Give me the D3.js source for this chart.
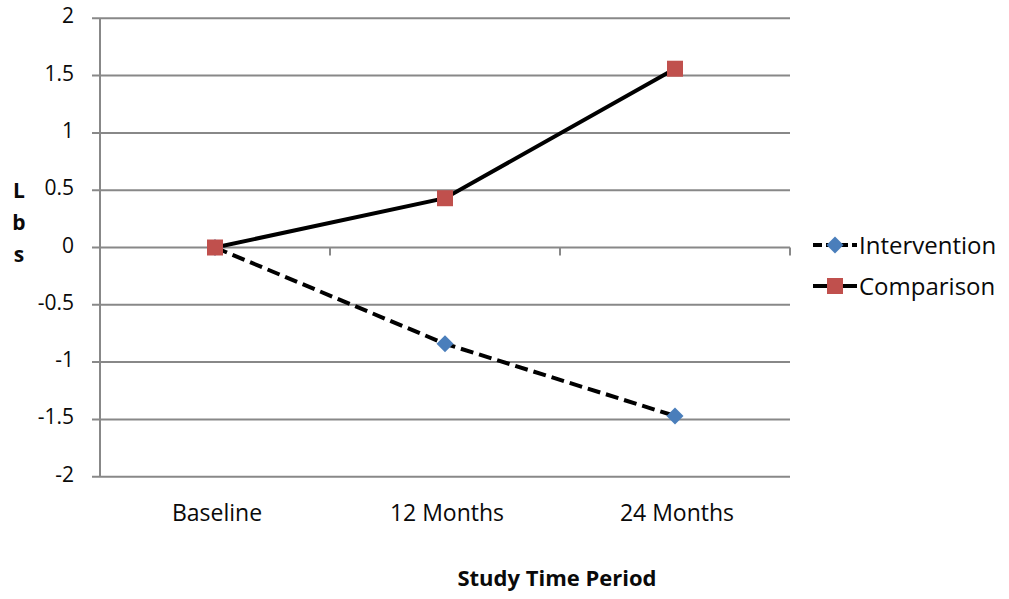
<!DOCTYPE html>
<html><head><meta charset="utf-8">
<script src="https://cdn.jsdelivr.net/npm/d3@7/dist/d3.min.js"></script>
<style>body{margin:0;background:#fff}svg{display:block}</style>
</head><body>
<svg id="c" width="1009" height="599"></svg>
<script>
const categories = ["Baseline", "12 Months", "24 Months"];
const interventionValues = [0, -0.84, -1.47];
const comparisonValues = [0, 0.43, 1.56];
const yTicks = [-2, -1.5, -1, -0.5, 0, 0.5, 1, 1.5, 2];
const seriesNames = ["Intervention", "Comparison"];
const xTitle = "Study Time Period";
const yTitle = "Lbs";

const svg = d3.select("#c");
const pLeft = 100, pRight = 790, pTop = 18.3, pBottom = 476.7;
const x = d3.scaleBand().domain(categories).range([pLeft, pRight]).paddingInner(0).paddingOuter(0);
const y = d3.scaleLinear().domain([-2, 2]).range([pBottom, pTop]);
const grid = "#888888";
const font = "'Open Sans', sans-serif";
const ink = "#0a0a0a";

// gridlines
svg.append("g").selectAll("line").data(yTicks).join("line")
  .attr("x1", pLeft - 8).attr("x2", pRight)
  .attr("y1", d => y(d)).attr("y2", d => y(d))
  .attr("stroke", grid).attr("stroke-width", 2);

// y axis line
svg.append("line").attr("x1", pLeft).attr("x2", pLeft).attr("y1", pTop).attr("y2", pBottom)
  .attr("stroke", grid).attr("stroke-width", 2);

// y tick labels
svg.append("g").selectAll("text").data(yTicks).join("text")
  .attr("x", 74).attr("y", d => y(d) + 5)
  .attr("text-anchor", "end").attr("font-family", font).attr("font-size", 21).attr("fill", ink)
  .text(d => d);

// x axis category ticks at boundaries (axis at y=0)
const bounds = categories.map(c => x(c) + x.bandwidth());
svg.append("g").selectAll("line").data(bounds).join("line")
  .attr("x1", d => d).attr("x2", d => d).attr("y1", y(0)).attr("y2", y(0) + 8)
  .attr("stroke", grid).attr("stroke-width", 2);

// x labels
svg.append("g").selectAll("text").data(categories).join("text")
  .attr("x", d => x(d) + x.bandwidth() / 2 + 2).attr("y", 521)
  .attr("text-anchor", "middle").attr("font-family", font).attr("font-size", 23).attr("fill", ink)
  .text(d => d);

// x title
svg.append("text").attr("x", 557).attr("y", 586).attr("text-anchor", "middle")
  .attr("font-family", font).attr("font-size", 22).attr("font-weight", "bold").attr("fill", ink)
  .text(xTitle);

// y title stacked letters
svg.append("g").selectAll("text").data(yTitle.split("")).join("text")
  .attr("x", 19).attr("y", (d, i) => 198 + i * 32)
  .attr("text-anchor", "middle").attr("font-family", font).attr("font-size", 21)
  .attr("font-weight", "bold").attr("fill", ink).text(d => d);

const cx = d => x(d) + x.bandwidth() / 2;
const line = d3.line().x(d => cx(d.c)).y(d => y(d.v));
const interData = categories.map((c, i) => ({c, v: interventionValues[i]}));
const compData = categories.map((c, i) => ({c, v: comparisonValues[i]}));

svg.append("path").datum(interData).attr("d", line).attr("fill", "none")
  .attr("stroke", "#000").attr("stroke-width", 4).attr("stroke-dasharray", "13,6");
svg.append("path").datum(compData).attr("d", line).attr("fill", "none")
  .attr("stroke", "#000").attr("stroke-width", 4);

const diamond = (g, px, py) => g.append("rect").attr("x", -6).attr("y", -6).attr("width", 12).attr("height", 12)
  .attr("transform", `translate(${px},${py}) rotate(45)`).attr("fill", "#4a7ebb");
const square = (g, px, py) => g.append("rect").attr("x", px - 8).attr("y", py - 8).attr("width", 16).attr("height", 16)
  .attr("fill", "#c0504d");

const mk = svg.append("g");
interData.forEach(d => diamond(mk, cx(d.c), y(d.v)));
compData.forEach(d => square(mk, cx(d.c), y(d.v)));

// legend
const lg = svg.append("g");
const legY = [245, 286];
seriesNames.forEach((n, i) => {
  lg.append("line").attr("x1", 813).attr("x2", 857).attr("y1", legY[i]).attr("y2", legY[i])
    .attr("stroke", "#000").attr("stroke-width", 4).attr("stroke-dasharray", i === 0 ? "9,4" : null);
  if (i === 0) diamond(lg, 835, legY[i]); else square(lg, 835, legY[i]);
  lg.append("text").attr("x", 859).attr("y", legY[i] + 8.5).attr("font-family", font)
    .attr("font-size", 24).attr("fill", ink).text(n);
});
</script>
</body></html>
